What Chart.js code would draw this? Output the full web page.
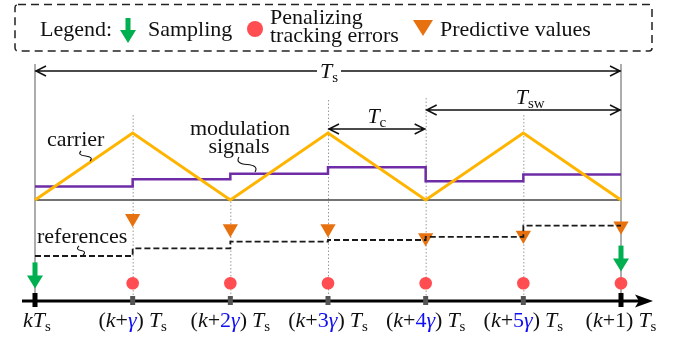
<!DOCTYPE html>
<html>
<head>
<meta charset="utf-8">
<script src="https://cdn.jsdelivr.net/npm/chart.js@4.4.1/dist/chart.umd.min.js"></script>
<style>
  html, body { margin: 0; padding: 0; background: #fff; }
</style>
</head>
<body>
<canvas id="grafica" width="679" height="340"></canvas>
<script>
  // instantes en pasos de gamma (0 = kTs, 6 = (k+1)Ts)
  const instantes = [0, 1, 2, 3, 4, 5, 6];
  const portadora = [0, 1, 0, 1, 0, 1, 0];
  // escalones: el ultimo valor se repite para cerrar el tramo
  const moduladora = [0.20, 0.31, 0.39, 0.49, 0.28, 0.38, 0.38];
  const referencias = [0.15, 0.34, 0.51, 0.55, 0.63, 0.91, 0.91];
  const instantesPred = [1, 2, 3, 4, 5, 6];
  const predictivos = [1.09, 0.835, 0.835, 0.61, 0.67, 0.90];
  const filaErrores = [-0.53, -0.53, -0.53, -0.53, -0.53, -0.53];
  const muestreo = [0, 6];
  const puntaMuestreo = [-0.66, -0.24];
  const etiquetasEje = ['kT_s', '(k+γ)T_s', '(k+2γ)T_s', '(k+3γ)T_s', '(k+4γ)T_s', '(k+5γ)T_s', '(k+1)T_s'];

  const fuente = '"Liberation Serif", "Times New Roman", serif';
  const verde = '#00B050';
  const rojo = '#FF4D52';
  const naranja = '#E8710F';

  const pares = (xs, ys) => xs.map((v, i) => ({ x: v, y: ys[i] }));

  // texto con subindice, cursivas y el gamma en azul
  function trozos(texto) {
    const p = [];
    let sub = false;
    for (let i = 0; i < texto.length; i++) {
      const c = texto[i];
      if (c === '_') { sub = true; continue; }
      if (sub) { p.push({ t: c, sub: true }); continue; }
      const azul = c === 'γ' || (/\d/.test(c) && texto[i + 1] === 'γ');
      const cursiva = c === 'k' || c === 'T' || c === 'γ';
      const hueco = (c === 'T' && texto[i - 1] === ')') ? 5 : 0;
      p.push({ t: c, azul, cursiva, hueco });
    }
    return p;
  }

  function fontDe(p, tam) {
    if (p.sub) return Math.round(tam * 0.7) + 'px ' + fuente;
    return (p.cursiva ? 'italic ' : '') + tam + 'px ' + fuente;
  }

  function dibujarTexto(ctx, texto, cx, base, tam) {
    const p = trozos(texto);
    let ancho = 0;
    p.forEach(q => { ctx.font = fontDe(q, tam); q.w = ctx.measureText(q.t).width; ancho += q.w + (q.hueco || 0); });
    let xx = cx - ancho / 2;
    ctx.textAlign = 'left';
    ctx.textBaseline = 'alphabetic';
    p.forEach(q => {
      xx += q.hueco || 0;
      ctx.font = fontDe(q, tam);
      ctx.fillStyle = q.azul ? '#1010F0' : '#111';
      ctx.fillText(q.t, xx, q.sub ? base + 4 : base);
      xx += q.w;
    });
    return ancho;
  }

  function flechaVerde(ctx, cx, punta, largo) {
    ctx.fillStyle = verde;
    ctx.fillRect(cx - 2.5, punta - largo, 5, largo - 12);
    ctx.beginPath();
    ctx.moveTo(cx - 8, punta - 13);
    ctx.lineTo(cx + 8, punta - 13);
    ctx.lineTo(cx, punta);
    ctx.closePath();
    ctx.fill();
  }

  function flechaDoble(ctx, x1, x2, y) {
    ctx.strokeStyle = '#111';
    ctx.lineWidth = 1.5;
    ctx.beginPath();
    ctx.moveTo(x1, y); ctx.lineTo(x2, y);
    ctx.moveTo(x1 + 11, y - 5); ctx.lineTo(x1 + 1, y); ctx.lineTo(x1 + 11, y + 5);
    ctx.moveTo(x2 - 11, y - 5); ctx.lineTo(x2 - 1, y); ctx.lineTo(x2 - 11, y + 5);
    ctx.stroke();
  }

  function rizo(ctx, x1, y1, x2, y2) {
    ctx.strokeStyle = '#111';
    ctx.lineWidth = 1.1;
    ctx.beginPath();
    ctx.moveTo(x1, y1);
    const mx = (x1 + x2) / 2, my = (y1 + y2) / 2;
    ctx.quadraticCurveTo(x1 - 4, my - 1, mx, my);
    ctx.quadraticCurveTo(x2 + 4, my + 1, x2, y2);
    ctx.stroke();
  }

  const decorado = {
    id: 'decorado',
    beforeDatasetsDraw(chart) {
      const { ctx, scales: { x } } = chart;
      ctx.save();
      // guias verticales
      ctx.strokeStyle = '#8a8a8a';
      ctx.lineWidth = 1.4;
      [0, 6].forEach(t => {
        const px = x.getPixelForValue(t);
        ctx.beginPath(); ctx.moveTo(px, 64); ctx.lineTo(px, 300); ctx.stroke();
      });
      const topes = [115, 198, 100, 98, 115];
      ctx.strokeStyle = '#9a9a9a';
      ctx.lineWidth = 1;
      ctx.setLineDash([1.5, 2]);
      [1, 2, 3, 4, 5].forEach((t, i) => {
        const px = x.getPixelForValue(t) + 0.5;
        ctx.beginPath(); ctx.moveTo(px, topes[i]); ctx.lineTo(px, 297); ctx.stroke();
      });
      ctx.setLineDash([]);
      ctx.restore();
    },
    afterDatasetsDraw(chart) {
      const { ctx, scales: { x, yRef } } = chart;
      ctx.save();

      // eje de tiempo
      const x0 = x.getPixelForValue(0), x6 = x.getPixelForValue(6);
      ctx.strokeStyle = '#000';
      ctx.lineWidth = 3;
      ctx.beginPath(); ctx.moveTo(x0 - 13, 301); ctx.lineTo(x6 + 20, 301); ctx.stroke();
      ctx.fillStyle = '#000';
      ctx.beginPath();
      ctx.moveTo(x6 + 32, 301); ctx.lineTo(x6 + 14, 294.5); ctx.lineTo(x6 + 18, 301); ctx.lineTo(x6 + 14, 307.5);
      ctx.closePath(); ctx.fill();
      instantes.forEach(t => {
        const px = x.getPixelForValue(t);
        if (t === 0 || t === 6) { ctx.fillStyle = '#000'; ctx.fillRect(px - 2.5, 293, 5, 14); }
        else { ctx.fillStyle = '#555'; ctx.fillRect(px - 2.5, 296, 5, 9); }
      });
      etiquetasEje.forEach((lab, i) => dibujarTexto(ctx, lab, x.getPixelForValue(instantes[i]) + (i === 0 ? 2 : 0), 327, 22));

      // flechas de muestreo
      muestreo.forEach((t, i) => flechaVerde(ctx, x.getPixelForValue(t), yRef.getPixelForValue(puntaMuestreo[i]), 26));

      // periodos
      flechaDoble(ctx, x0, x6, 71);
      ctx.fillStyle = '#fff';
      ctx.fillRect(x.getPixelForValue(3) - 11, 62, 24, 20);
      dibujarTexto(ctx, 'T_s', x.getPixelForValue(3) + 1, 78, 22);
      flechaDoble(ctx, x.getPixelForValue(3), x.getPixelForValue(4), 129);
      dibujarTexto(ctx, 'T_c', x.getPixelForValue(3.5), 123, 22);
      flechaDoble(ctx, x.getPixelForValue(4), x6, 110);
      dibujarTexto(ctx, 'T_sw', x.getPixelForValue(5.07), 104, 22);

      // rotulos
      ctx.fillStyle = '#111';
      ctx.font = '22px ' + fuente;
      ctx.textAlign = 'left';
      ctx.fillText('carrier', 47, 146);
      rizo(ctx, 81, 151, 90, 161);
      ctx.textAlign = 'center';
      ctx.fillText('modulation', 240, 135);
      ctx.fillText('signals', 239, 153);
      rizo(ctx, 239, 157, 255, 172);
      ctx.textAlign = 'left';
      ctx.fillText('references', 37, 243);
      rizo(ctx, 79, 246, 83, 255);

      // leyenda
      ctx.strokeStyle = '#222';
      ctx.lineWidth = 1.5;
      ctx.setLineDash([8, 5]);
      ctx.beginPath();
      ctx.roundRect(15, 4.5, 637, 46.5, 3);
      ctx.stroke();
      ctx.setLineDash([]);
      ctx.fillStyle = '#111';
      ctx.font = '22px ' + fuente;
      ctx.fillText('Legend:', 40, 36);
      flechaVerde(ctx, 128, 43, 25);
      ctx.fillStyle = '#111';
      ctx.fillText('Sampling', 148, 36);
      ctx.fillStyle = rojo;
      ctx.beginPath(); ctx.arc(255, 29, 8, 0, Math.PI * 2); ctx.fill();
      ctx.fillStyle = '#111';
      ctx.fillText('Penalizing', 270, 24);
      ctx.fillText('tracking errors', 270, 42);
      ctx.fillStyle = naranja;
      ctx.beginPath(); ctx.moveTo(413, 20); ctx.lineTo(433, 20); ctx.lineTo(423, 36); ctx.closePath(); ctx.fill();
      ctx.fillStyle = '#111';
      ctx.fillText('Predictive values', 440, 36);
      ctx.restore();
    }
  };

  const ctx = document.getElementById('grafica').getContext('2d');
  const escalaPx = 586 / 6;
  window.miGrafica = new Chart(ctx, {
    type: 'scatter',
    data: {
      datasets: [
        {
          label: 'errors',
          data: pares(instantesPred, filaErrores),
          yAxisID: 'yRef',
          pointStyle: 'circle',
          pointRadius: 6.3,
          backgroundColor: rojo,
          borderWidth: 0,
          order: 1
        },
        {
          label: 'references',
          data: pares(instantes, referencias),
          yAxisID: 'yRef',
          showLine: true,
          stepped: true,
          borderColor: '#1a1a1a',
          borderWidth: 1.8,
          borderDash: [6, 3],
          pointRadius: 0,
          order: 2
        },
        {
          label: 'predictive',
          data: pares(instantesPred, predictivos),
          yAxisID: 'yRef',
          pointStyle: 'triangle',
          rotation: 180,
          pointRadius: 8.8,
          backgroundColor: naranja,
          borderWidth: 0,
          order: 3
        },
        {
          label: 'carrier',
          data: pares(instantes, portadora),
          yAxisID: 'y',
          showLine: true,
          borderColor: '#FFB400',
          borderWidth: 3,
          pointRadius: 0,
          order: 4
        },
        {
          label: 'modulation',
          data: pares(instantes, moduladora),
          yAxisID: 'y',
          showLine: true,
          stepped: true,
          borderColor: '#6E2DA6',
          borderWidth: 2.5,
          pointRadius: 0,
          order: 5
        },
        {
          label: 'zero',
          data: pares([0, 6], [0, 0]),
          yAxisID: 'y',
          showLine: true,
          borderColor: '#444',
          borderWidth: 1.6,
          pointRadius: 0,
          order: 6
        }
      ]
    },
    options: {
      responsive: false,
      devicePixelRatio: 1,
      animation: false,
      layout: { padding: 0, autoPadding: false },
      plugins: { legend: { display: false }, tooltip: { enabled: false } },
      scales: {
        x: { type: 'linear', display: false, min: -35 / escalaPx, max: 6 + 58 / escalaPx },
        y: { type: 'linear', display: false, min: -140 / 67, max: 200 / 67 },
        yRef: { type: 'linear', display: false, min: -78 / 40, max: 262 / 40 }
      }
    },
    plugins: [decorado]
  });
</script>
</body>
</html>
